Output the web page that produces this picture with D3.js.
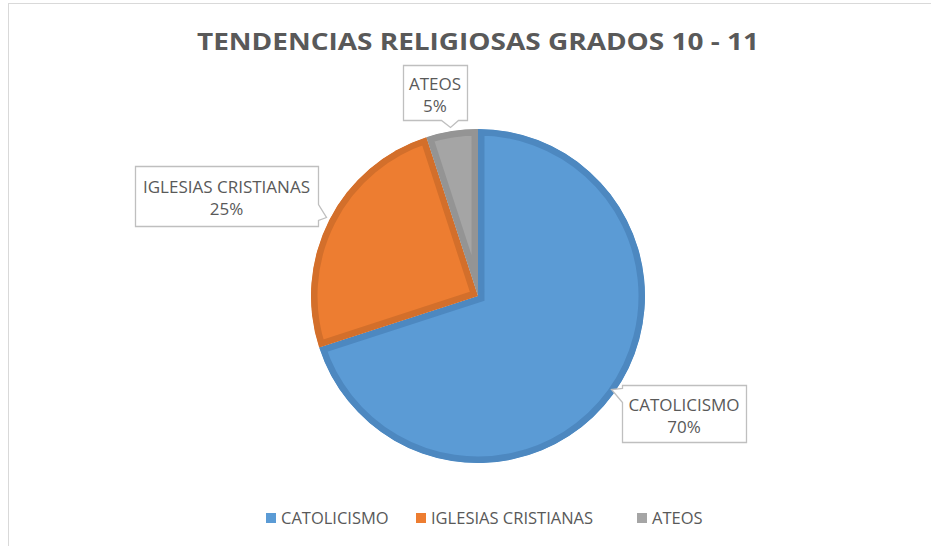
<!DOCTYPE html>
<html>
<head>
<meta charset="utf-8">
<script src="https://cdn.jsdelivr.net/npm/d3@7"></script>
<style>
  body { margin: 0; background: #fff; }
  svg { display: block; }
</style>
</head>
<body>
<div id="chart"></div>
<script>
const categories = ['CATOLICISMO', 'IGLESIAS CRISTIANAS', 'ATEOS'];
const values = [70, 25, 5];
const percentLabels = ['70%', '25%', '5%'];
const fills = ['#5B9BD5', '#ED7D31', '#A5A5A5'];
const borders = ['#4D88C0', '#D36F2B', '#949494'];

const width = 931, height = 546;
const cx = 478, cy = 296, radius = 167;

const svg = d3.select('#chart').append('svg')
  .attr('width', width)
  .attr('height', height);

// chart area frame
svg.append('rect')
  .attr('x', 8.5).attr('y', 3.5)
  .attr('width', width).attr('height', height)
  .attr('fill', '#fff')
  .attr('stroke', '#D9D9D9');

svg.append('text')
  .attr('x', cx).attr('y', 50)
  .attr('text-anchor', 'middle')
  .attr('font-family', 'Open Sans, sans-serif')
  .attr('font-weight', 700)
  .attr('font-size', 23)
  .attr('fill', '#595959')
  .attr('textLength', 562)
  .attr('lengthAdjust', 'spacingAndGlyphs')
  .text('TENDENCIAS RELIGIOSAS GRADOS 10 - 11');

const data = categories.map((c, i) => ({ category: c, value: values[i], label: percentLabels[i], i }));

const pie = d3.pie().value(d => d.value).sort(null);
const arc = d3.arc().innerRadius(0).outerRadius(radius);
const arcs = pie(data);

const g = svg.append('g').attr('transform', `translate(${cx},${cy})`);

const defs = svg.append('defs');
arcs.forEach((a, i) => {
  defs.append('clipPath').attr('id', 'clip' + i)
    .append('path').attr('d', arc(a));
});

g.selectAll('path.slice')
  .data(arcs)
  .enter().append('path')
  .attr('class', 'slice')
  .attr('d', arc)
  .attr('fill', d => fills[d.data.i])
  .attr('stroke', d => borders[d.data.i])
  .attr('stroke-width', 13)
  .attr('stroke-linejoin', 'miter')
  .attr('clip-path', d => `url(#clip${d.data.i})`);

// callout label boxes
const boxes = [
  { x: 622, y: 385, w: 124, h: 57, side: 'left', tip: [611, 389], base: [388, 402] },
  { x: 135, y: 166, w: 183, h: 60, side: 'right', tip: [326, 217], base: [204, 220] },
  { x: 403, y: 65, w: 64, h: 55, side: 'bottom', tip: [450, 127], base: [441, 458] }
];

const labelG = svg.append('g');
arcs.forEach((a, i) => {
  const b = boxes[i];
  let pts;
  if (b.side === 'left') {
    pts = [[b.x, b.y], [b.x + b.w, b.y], [b.x + b.w, b.y + b.h], [b.x, b.y + b.h],
           [b.x, b.base[1]], b.tip, [b.x, b.base[0]]];
  } else if (b.side === 'right') {
    pts = [[b.x, b.y], [b.x + b.w, b.y], [b.x + b.w, b.base[0]], b.tip, [b.x + b.w, b.base[1]],
           [b.x + b.w, b.y + b.h], [b.x, b.y + b.h]];
  } else {
    pts = [[b.x, b.y], [b.x + b.w, b.y], [b.x + b.w, b.y + b.h], [b.base[1], b.y + b.h],
           b.tip, [b.base[0], b.y + b.h], [b.x, b.y + b.h]];
  }
  labelG.append('path')
    .attr('d', d3.line()(pts) + 'Z')
    .attr('fill', '#fff')
    .attr('stroke', '#BFBFBF')
    .attr('stroke-width', 1.3)
    .attr('transform', 'translate(0.5,0.5)');
  const mid = b.y + b.h / 2;
  const t = labelG.append('text')
    .attr('text-anchor', 'middle')
    .attr('font-family', 'Open Sans, sans-serif')
    .attr('font-size', 17)
    .attr('fill', '#595959');
  t.append('tspan').attr('x', b.x + b.w / 2).attr('y', mid - 3).text(a.data.category);
  t.append('tspan').attr('x', b.x + b.w / 2).attr('y', mid + 19).text(a.data.label);
});

// legend
const legendX = [266, 416, 637];
const legend = svg.append('g');
data.forEach((d, i) => {
  legend.append('rect')
    .attr('x', legendX[i]).attr('y', 513)
    .attr('width', 10).attr('height', 10)
    .attr('fill', fills[i]);
  legend.append('text')
    .attr('x', legendX[i] + 15).attr('y', 524)
    .attr('font-family', 'Open Sans, sans-serif')
    .attr('font-size', 16.5)
    .attr('fill', '#595959')
    .text(d.category);
});
</script>
</body>
</html>
